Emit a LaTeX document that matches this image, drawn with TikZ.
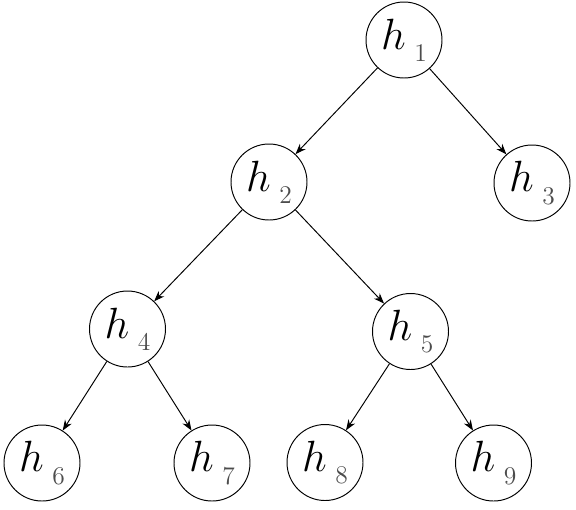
\documentclass[tikz,border=0pt]{standalone}
\usepackage{tikz}
\usetikzlibrary{arrows.meta}
\definecolor{subgray}{rgb}{0.3, 0.3, 0.3}
\newcommand{\hlab}[1]{{\fontsize{26}{30}\selectfont$h$}\hspace{5pt}\raisebox{-7pt}{\fontsize{14.5}{17}\selectfont\color{subgray}#1}}

\begin{document}
\begin{tikzpicture}[>={Stealth[length=6pt, width=4.5pt]}, line width=0.55pt,
        hnode/.style={draw, circle, minimum size=1.52cm, inner sep=0pt}]
        \useasboundingbox (0,0) rectangle (11.52,-10.18);
        % Nodes
        \node [hnode] (h1) at (8.08,-0.80) {\hlab{1}};
        \node [hnode] (h2) at (5.38,-3.64) {\hlab{2}};
        \node [hnode] (h3) at (10.64,-3.66) {\hlab{3}};
        \node [hnode] (h4) at (2.55,-6.58) {\hlab{4}};
        \node [hnode] (h5) at (8.21,-6.63) {\hlab{5}};
        \node [hnode] (h6) at (0.84,-9.26) {\hlab{6}};
        \node [hnode] (h7) at (4.24,-9.26) {\hlab{7}};
        \node [hnode] (h8) at (6.50,-9.25) {\hlab{8}};
        \node [hnode] (h9) at (9.87,-9.26) {\hlab{9}};
        
        % Edges
        \draw [->] (h1) -- (h2);
        \draw [->] (h1) -- (h3);
        \draw [->] (h2) -- (h4);
        \draw [->] (h2) -- (h5);
        \draw [->] (h4) -- (h6);
        \draw [->] (h4) -- (h7);
        \draw [->] (h5) -- (h8);
        \draw [->] (h5) -- (h9);
    \end{tikzpicture}
\end{document}
